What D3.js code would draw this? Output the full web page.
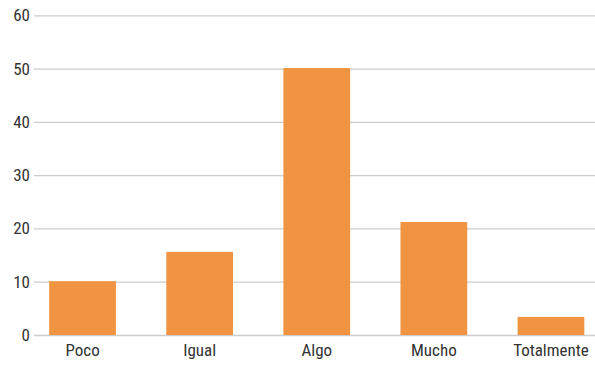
<!DOCTYPE html>
<html><head><meta charset="utf-8">
<script src="https://cdn.jsdelivr.net/npm/d3@7"></script>
<style>body{margin:0;background:#fff}svg{display:block}</style>
</head><body>
<svg id="c" width="595" height="365"></svg>
<script>
const categories = ["Poco", "Igual", "Algo", "Mucho", "Totalmente"];
const values = [10.1, 15.6, 50.1, 21.2, 3.4];
const yTicks = [0, 10, 20, 30, 40, 50, 60];

const svg = d3.select("#c");
const font = "'Liberation Sans Narrow', 'Roboto Condensed', 'Arial Narrow', sans-serif";
const y = d3.scaleLinear().domain([0, 60]).range([335, 15.3]);
const x = d3.scaleBand().domain(categories).range([24, 609.5]).paddingInner(0.43).paddingOuter(0.215);

const yAxis = d3.axisLeft(y).tickValues(yTicks).tickSize(-561).tickPadding(5).tickFormat(d3.format("d"));
const gy = svg.append("g").attr("transform", "translate(34,0)").call(yAxis);
gy.select(".domain").remove();
gy.selectAll(".tick line").attr("stroke", "#cccccc").attr("stroke-width", 1.3);
gy.selectAll(".tick text").attr("font-family", font).attr("font-size", 17).attr("fill", "#333").attr("x", -4);

svg.append("g").selectAll("rect").data(values).join("rect")
  .attr("x", (d, i) => x(categories[i]))
  .attr("width", x.bandwidth())
  .attr("y", d => y(d))
  .attr("height", d => y(0) - y(d))
  .attr("fill", "#F09441");

const xAxis = d3.axisBottom(x).tickSize(0).tickPadding(9);
const gx = svg.append("g").attr("transform", "translate(0,335)").call(xAxis);
gx.select(".domain").remove();
gx.selectAll(".tick text").attr("font-family", font).attr("font-size", 17).attr("fill", "#333");
</script>
</body></html>
